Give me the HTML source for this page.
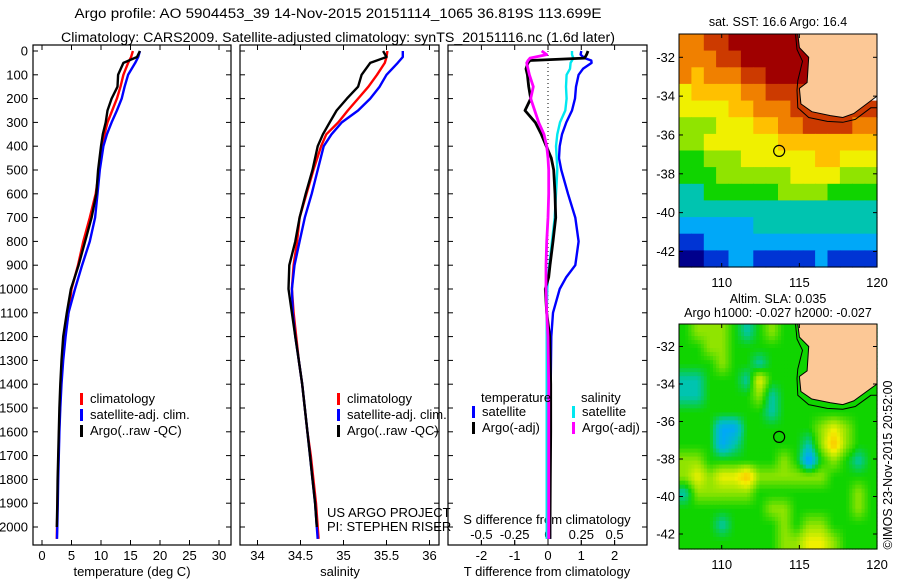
<!DOCTYPE html>
<html><head><meta charset="utf-8">
<style>
html,body{margin:0;padding:0;background:#fff;}
svg{display:block;font-family:"Liberation Sans",sans-serif;}
text{fill:#000;}
</style></head>
<body>
<svg id="fig" width="900" height="580" viewBox="0 0 900 580" xmlns="http://www.w3.org/2000/svg">
<text x="338" y="18" font-size="13.5" text-anchor="middle" textLength="527" lengthAdjust="spacingAndGlyphs">Argo profile: AO 5904453_39 14-Nov-2015 20151114_1065 36.819S 113.699E</text>
<text x="338" y="42" font-size="13.5" text-anchor="middle" textLength="554" lengthAdjust="spacingAndGlyphs">Climatology: CARS2009. Satellite-adjusted climatology: synTS_20151116.nc (1.6d later)</text>
<g id="g"></g>
</svg>
<script>
// ---------- data ----------
const depths = [0,25,50,100,150,200,250,300,350,400,500,600,700,800,900,1000,1100,1200,1300,1400,1500,1600,1700,1800,1900,2000,2050];
const tempArgo = [16.6,16.1,13.8,12.9,12.8,11.8,11.1,10.8,10.3,10.0,9.5,9.2,8.4,7.3,6.2,4.9,4.2,3.6,3.3,3.1,2.95,2.85,2.75,2.65,2.6,2.5,2.45];
const tempClim = [15.4,15.1,14.6,13.8,13.3,12.7,11.9,11.1,10.6,10.1,9.7,9.1,8.1,7.0,6.1,5.0,4.5,3.9,3.5,3.2,3.05,2.9,2.8,2.7,2.62,2.55,2.5];
const tempSat  = [16.6,16.3,15.8,14.6,14.0,13.5,12.7,11.8,11.0,10.4,9.8,9.4,9.0,8.1,6.8,5.6,4.5,4.0,3.6,3.3,3.1,2.95,2.85,2.75,2.68,2.6,2.55];
const salArgo = [35.46,35.50,35.31,35.21,35.17,35.04,34.92,34.84,34.76,34.70,34.64,34.56,34.49,34.44,34.37,34.36,34.40,34.44,34.48,34.52,34.55,34.58,34.61,34.64,34.67,34.69,34.70];
const salClim = [35.51,35.50,35.48,35.39,35.29,35.17,35.05,34.94,34.80,34.74,34.65,34.57,34.49,34.46,34.42,34.40,34.42,34.45,34.48,34.52,34.55,34.58,34.62,34.65,34.68,34.70,34.71];
const salSat  = [35.69,35.69,35.63,35.50,35.42,35.31,35.17,34.98,34.86,34.77,34.70,34.63,34.55,34.49,34.43,34.40,34.41,34.44,34.48,34.52,34.55,34.58,34.61,34.64,34.67,34.69,34.70];
const diffDepths = [0,15,30,40,50,75,100,150,200,250,300,350,400,450,500,600,700,800,900,950,1000,1100,1200,1400,1600,1800,2000,2050];
const tDiffArgo = [1.2,1.16,1.1,-0.54,-0.6,-0.66,-0.62,-0.58,-0.52,-0.69,-0.38,-0.2,-0.05,0.1,0.17,0.21,0.23,0.15,0.06,0.02,-0.08,-0.04,0.05,0.08,0.08,0.07,0.06,0.06];
const tDiffSat  = [1.0,0.98,1.1,1.3,1.31,1.05,0.92,0.84,0.81,0.72,0.55,0.42,0.35,0.33,0.4,0.6,0.82,0.92,0.82,0.55,0.35,0.15,0.1,0.08,0.07,0.07,0.06,0.06];
const sDiffSat  = [0.18,0.18,0.19,0.18,0.17,0.165,0.14,0.135,0.14,0.13,0.09,0.07,0.06,0.065,0.07,0.06,0.05,0.03,0.01,0.0,-0.005,-0.01,-0.01,-0.01,-0.01,-0.01,-0.01,-0.01];
const sDiffArgo = [-0.047,-0.01,-0.135,-0.15,-0.16,-0.15,-0.14,-0.11,-0.13,-0.1,-0.07,-0.03,-0.01,0,0.005,0.005,0,-0.01,-0.015,-0.015,-0.015,-0.01,0,0.005,0.005,0.005,0.005,0.005];
const depthTicks = [0,100,200,300,400,500,600,700,800,900,1000,1100,1200,1300,1400,1500,1600,1700,1800,1900,2000];
const tempTicks = [0,5,10,15,20,25,30];
const salTicks = [34,34.5,35,35.5,36];
const salTickLabels = ["34","34.5","35","35.5","36"];
const tDiffTicks = [-2,-1,0,1,2];
const sDiffTicks = [-0.5,-0.25,0,0.25,0.5];
const sDiffTickLabels = ["-0.5","-0.25","0","0.25","0.5"];
// map data: colour index 0..10 (-1 = land), 16 cols x 14 rows
const mapLons = [107.25,120];
const mapLats = [-30.8,-42.8];
const sstGrid = [
[8,8,9,9,10,10,10,10,10,10,10,-1,-1,-1,-1,-1],
[8,8,8,9,9,10,10,10,10,10,10,-1,-1,-1,-1,-1],
[8,7,8,8,8,9,9,10,10,10,10,-1,-1,-1,-1,-1],
[6,7,7,7,7,8,8,9,9,9,9,-1,-1,-1,-1,-1],
[6,6,6,6,7,7,8,8,8,9,9,9,9,9,9,9],
[5,5,5,6,6,6,7,7,8,8,9,9,9,9,8,8],
[5,5,6,6,6,6,6,6,7,7,7,7,7,7,7,7],
[4,4,5,5,5,6,6,6,6,6,6,7,7,6,6,6],
[4,4,4,5,5,5,5,5,5,6,6,6,6,5,5,5],
[3,3,4,4,4,4,4,4,5,5,5,5,4,4,4,4],
[3,3,3,3,3,3,3,3,3,3,3,3,3,3,3,3],
[2,2,2,2,2,2,3,3,3,3,3,3,3,3,3,3],
[1,1,2,2,2,2,2,2,2,2,2,2,2,2,2,2],
[0,0,1,1,2,2,1,1,1,1,1,2,1,1,1,1]];
const slaGrid = [
[4,5,5,5,4,3,4,5,4,4,4,4,4,4,4,4],
[4,4,5,5,4,4,4,4,4,4,4,4,4,4,4,4],
[4,4,4,5,4,4,3,4,4,4,4,4,4,4,4,4],
[3,3,4,4,4,3,6,4,4,4,4,4,4,4,4,4],
[3,3,4,4,4,4,5,3,4,4,4,4,4,4,4,4],
[4,4,4,4,4,4,4,3,4,4,4,4,4,4,4,4],
[4,4,4,2,2,4,4,4,4,4,4,5,6,5,4,4],
[4,4,4,2,3,4,4,4,4,4,3,5,7,5,4,4],
[5,5,4,4,4,4,4,4,5,4,1.5,4,5,4,3,4],
[5,6,5,6,6,7,5,5,5,5,5,5,4,4,4,4],
[3,5,5,5,5,5,4,4,4,4,4,4,4,4,5,4],
[4,4,4,4,4,4,4,5,5,4,4,4,4,4,5,4],
[4,4,4,3,4,4,4,4,5,4,5,5,4,4,4,4],
[4,4,4,4,4,4,4,4,5,5,6,6,5,4,4,4]];
const landLon = [114.9,115.0,115.6,115.5,115.0,115.1,115.8,117.0,117.8,118.5,119.5,120,120];
const landLat = [-30.8,-31.5,-32.0,-33.3,-33.6,-34.4,-34.8,-35.0,-35.1,-34.9,-34.3,-34.0,-30.8];
const shelfLon = [114.75,114.85,115.2,114.9,114.85,114.9,115.6,116.8,117.8,118.6,119.6,120];
const shelfLat = [-30.8,-31.6,-32.2,-33.2,-33.7,-34.6,-35.1,-35.3,-35.35,-35.2,-34.6,-34.6];
const latTicks = [-32,-34,-36,-38,-40,-42];
const lonTicks = [110,115,120];
const argoLon = 113.7, argoLat = -36.82;

// ---------- helpers ----------
const NS = "http://www.w3.org/2000/svg";
const G = document.getElementById('g');
function mk(tag, attrs, parent){ const e=document.createElementNS(NS,tag); for(const k in attrs) e.setAttribute(k,attrs[k]); (parent||G).appendChild(e); return e; }
function txt(s,x,y,attrs,parent){ const e=mk('text',Object.assign({x:x,y:y,'font-size':13},attrs||{}),parent); e.textContent=s; return e; }

const TOP=51, BOT=545;
const yD = d => TOP + 0.238*d;
const panels = [{x0:33,x1:231},{x0:240,x1:439},{x0:448,x1:647}];
const xT = t => 42 + 5.9*t;
const xS = s => 257.5 + 86*(s-34);
const xTd = t => 548 + 33.3*t;
const xSd = s => 548 + 133.2*s;

function line(xs, ys, fx, color, name, w){
  let d='';
  for(let i=0;i<xs.length;i++){ d += (i?'L':'M') + fx(xs[i]).toFixed(1) + ' ' + yD(ys[i]).toFixed(1); }
  const p = mk('path',{d:d,fill:'none',stroke:color,'stroke-width':w||2.4,'stroke-linejoin':'round'});
  
  
  return p;
}

panels.forEach((p,i)=>{
  const r = mk('rect',{x:p.x0,y:TOP-6,width:p.x1-p.x0,height:BOT-TOP+6,fill:'none',stroke:'#000','stroke-width':1.2});
  
  
});
depthTicks.forEach(d=>{
  const t = txt(String(d), 28, yD(d)+4.5, {'text-anchor':'end'});
  
  
  panels.forEach(p=>{
    mk('line',{x1:p.x0,x2:p.x0+5,y1:yD(d),y2:yD(d),stroke:'#000','stroke-width':1});
    mk('line',{x1:p.x1,x2:p.x1-5,y1:yD(d),y2:yD(d),stroke:'#000','stroke-width':1});
  });
});
function xticks(vals, labels, fx, labelY){
  vals.forEach((v,i)=>{
    mk('line',{x1:fx(v),x2:fx(v),y1:BOT,y2:BOT-5,stroke:'#000','stroke-width':1});
    mk('line',{x1:fx(v),x2:fx(v),y1:TOP-6,y2:TOP-1,stroke:'#000','stroke-width':1});
    if(labelY){
      const t = txt(labels[i], fx(v), labelY, {'text-anchor':'middle'});
      
      
    }
  });
}
xticks(tempTicks, tempTicks.map(String), xT, 560);
xticks(salTicks, salTickLabels, xS, 560);
xticks(tDiffTicks, tDiffTicks.map(String), xTd, 560);
sDiffTicks.forEach((v,i)=>{
  mk('line',{x1:xSd(v),x2:xSd(v),y1:BOT,y2:BOT-5,stroke:'#000','stroke-width':1});
  const t = txt(sDiffTickLabels[i], xSd(v), 539, {'text-anchor':'middle'});
  
  
});
[['temperature (deg C)',132,576,'x-axis-title-temperature'],['salinity',340,576,'x-axis-title-salinity'],['T difference from climatology',547,576,'x-axis-title-t-diff'],['S difference from climatology',547,524,'axis-title-s-diff']].forEach(a=>{
  const t = txt(a[0],a[1],a[2],{'text-anchor':'middle'});
  
  
});
mk('line',{x1:xTd(0),x2:xTd(0),y1:TOP,y2:BOT,stroke:'#000','stroke-width':1,'stroke-dasharray':'1,3'});

line(tempClim, depths, xT, '#ff0000', 'temp-climatology-line');
line(tempSat, depths, xT, '#0000ff', 'temp-satellite-line');
line(tempArgo.slice(0,26), depths.slice(0,26), xT, '#000000', 'temp-argo-line');
line(salClim, depths, xS, '#ff0000', 'sal-climatology-line');
line(salSat, depths, xS, '#0000ff', 'sal-satellite-line');
line(salArgo.slice(0,26), depths.slice(0,26), xS, '#000000', 'sal-argo-line');
line(tDiffSat, diffDepths, xTd, '#0000ff', 't-diff-satellite-line');
line(sDiffSat, diffDepths, xSd, '#00e8f0', 's-diff-satellite-line');
line(tDiffArgo, diffDepths, xTd, '#000000', 't-diff-argo-line', 2.8);
line(sDiffArgo, diffDepths, xSd, '#ff00ff', 's-diff-argo-line', 2.8);

function legend(x, y, color, label){
  const r = mk('rect',{x:x,y:y-10,width:3,height:12,fill:color});
  
  
  const t = txt(label, x+10, y, {});
  
  
}
legend(80,403,'#ff0000','climatology');
legend(80,419,'#0000ff','satellite-adj. clim.');
legend(80,435,'#000000','Argo(..raw -QC)');
legend(337,403,'#ff0000','climatology');
legend(337,419,'#0000ff','satellite-adj. clim.');
legend(337,435,'#000000','Argo(..raw -QC)');
txt('temperature',481,402,{});
txt('salinity',581,402,{});
legend(472,416,'#0000ff','satellite');
legend(472,432,'#000000','Argo(-adj)');
legend(572,416,'#00e8f0','satellite');
legend(572,432,'#ff00ff','Argo(-adj)');
txt('US ARGO PROJECT',327,517,{});
txt('PI: STEPHEN RISER',327,531,{});

// ---------- maps ----------
const palette = ['#00008c','#0034d4','#00a8f8','#00c4b0','#10d400','#90e400','#f0f000','#ffc000','#f08000','#cc3a00','#a00000'];
function colorOf(v){ v=Math.max(0,Math.min(10,v)); const i=Math.floor(v), f=v-i; if(f===0) return palette[i];
  const a=palette[i], b=palette[Math.min(i+1,10)];
  const h=(c,k)=>parseInt(c.substr(1+2*k,2),16);
  return 'rgb('+[0,1,2].map(k=>Math.round(h(a,k)*(1-f)+h(b,k)*f)).join(',')+')'; }
function sample(grid, r, c){
  const nr=grid.length, nc=grid[0].length;
  r=Math.max(0,Math.min(nr-1,r)); c=Math.max(0,Math.min(nc-1,c));
  const r0=Math.floor(r), c0=Math.floor(c), r1=Math.min(nr-1,r0+1), c1=Math.min(nc-1,c0+1);
  const fr=r-r0, fc=c-c0;
  const g=(a,b)=>grid[a][b]<0?4:grid[a][b];
  return g(r0,c0)*(1-fr)*(1-fc)+g(r0,c1)*(1-fr)*fc+g(r1,c0)*fr*(1-fc)+g(r1,c1)*fr*fc;
}
function drawMap(mx0,mx1,my0,my1,grid,smooth,title1,title2,name){
  const mg = mk('g',{});
  
  
  const fx = lon => mx0 + (lon-mapLons[0])/(mapLons[1]-mapLons[0])*(mx1-mx0);
  const fy = lat => my0 + (lat-mapLats[0])/(mapLats[1]-mapLats[0])*(my1-my0);
  const nr=grid.length, nc=grid[0].length;
  const sub = smooth?4:1;
  const cw=(mx1-mx0)/nc/sub, ch=(my1-my0)/nr/sub;
  for(let r=0;r<nr*sub;r++) for(let c=0;c<nc*sub;c++){
    const v = smooth ? sample(grid,(r+0.5)/sub-0.5,(c+0.5)/sub-0.5) : grid[r][c];
    if(!smooth && v<0) continue;
    const cell = mk('rect',{x:(mx0+c*cw).toFixed(1),y:(my0+r*ch).toFixed(1),width:(cw+0.6).toFixed(1),height:(ch+0.6).toFixed(1),fill:colorOf(v)},mg);
    
    
  }
  const land = mk('polygon',{points:landLon.map((l,i)=>fx(l).toFixed(1)+','+fy(landLat[i]).toFixed(1)).join(' '),fill:'#fcc896',stroke:'#000','stroke-width':1},mg);
  
  
  const shelf = mk('polyline',{points:shelfLon.map((l,i)=>fx(l).toFixed(1)+','+fy(shelfLat[i]).toFixed(1)).join(' '),fill:'none',stroke:'#000','stroke-width':1},mg);
  
  
  const c = mk('circle',{cx:fx(argoLon),cy:fy(argoLat),r:5.5,fill:'none',stroke:'#000','stroke-width':1.2},mg);
  
  
  mk('rect',{x:mx0,y:my0,width:mx1-mx0,height:my1-my0,fill:'none',stroke:'#000','stroke-width':1},mg);
  latTicks.forEach(l=>{
    mk('line',{x1:mx1,x2:mx1-4,y1:fy(l),y2:fy(l),stroke:'#000'},mg);
    mk('line',{x1:mx0,x2:mx0+4,y1:fy(l),y2:fy(l),stroke:'#000'},mg);
    const t = txt(String(l), mx0-4, fy(l)+4.5, {'text-anchor':'end'}, mg);
    
    
  });
  lonTicks.forEach(l=>{
    mk('line',{x1:fx(l),x2:fx(l),y1:my1,y2:my1-4,stroke:'#000'},mg);
    mk('line',{x1:fx(l),x2:fx(l),y1:my0,y2:my0+4,stroke:'#000'},mg);
    const t = txt(String(l), fx(l), my1+20, {'text-anchor':'middle'}, mg);
    
    
  });
  const t1 = txt(title1, (mx0+mx1)/2, title2? my0-21 : my0-8, {'text-anchor':'middle','font-size':12.5}, mg);
  
  
  if(title2){
    const t2 = txt(title2, (mx0+mx1)/2, my0-7, {'text-anchor':'middle','font-size':12.5}, mg);
    
    
  }
}
drawMap(679,877,34,267,sstGrid,false,'sat. SST: 16.6 Argo: 16.4',null,'sst-map');
drawMap(679,877,324,549,slaGrid,true,'Altim. SLA: 0.035','Argo h1000: -0.027 h2000: -0.027','sla-map');
const cr = txt('©IMOS 23-Nov-2015 20:52:00', 0, 0, {'text-anchor':'middle','font-size':12.5,transform:'translate(892,465) rotate(-90)'});


</script>
</body></html>
